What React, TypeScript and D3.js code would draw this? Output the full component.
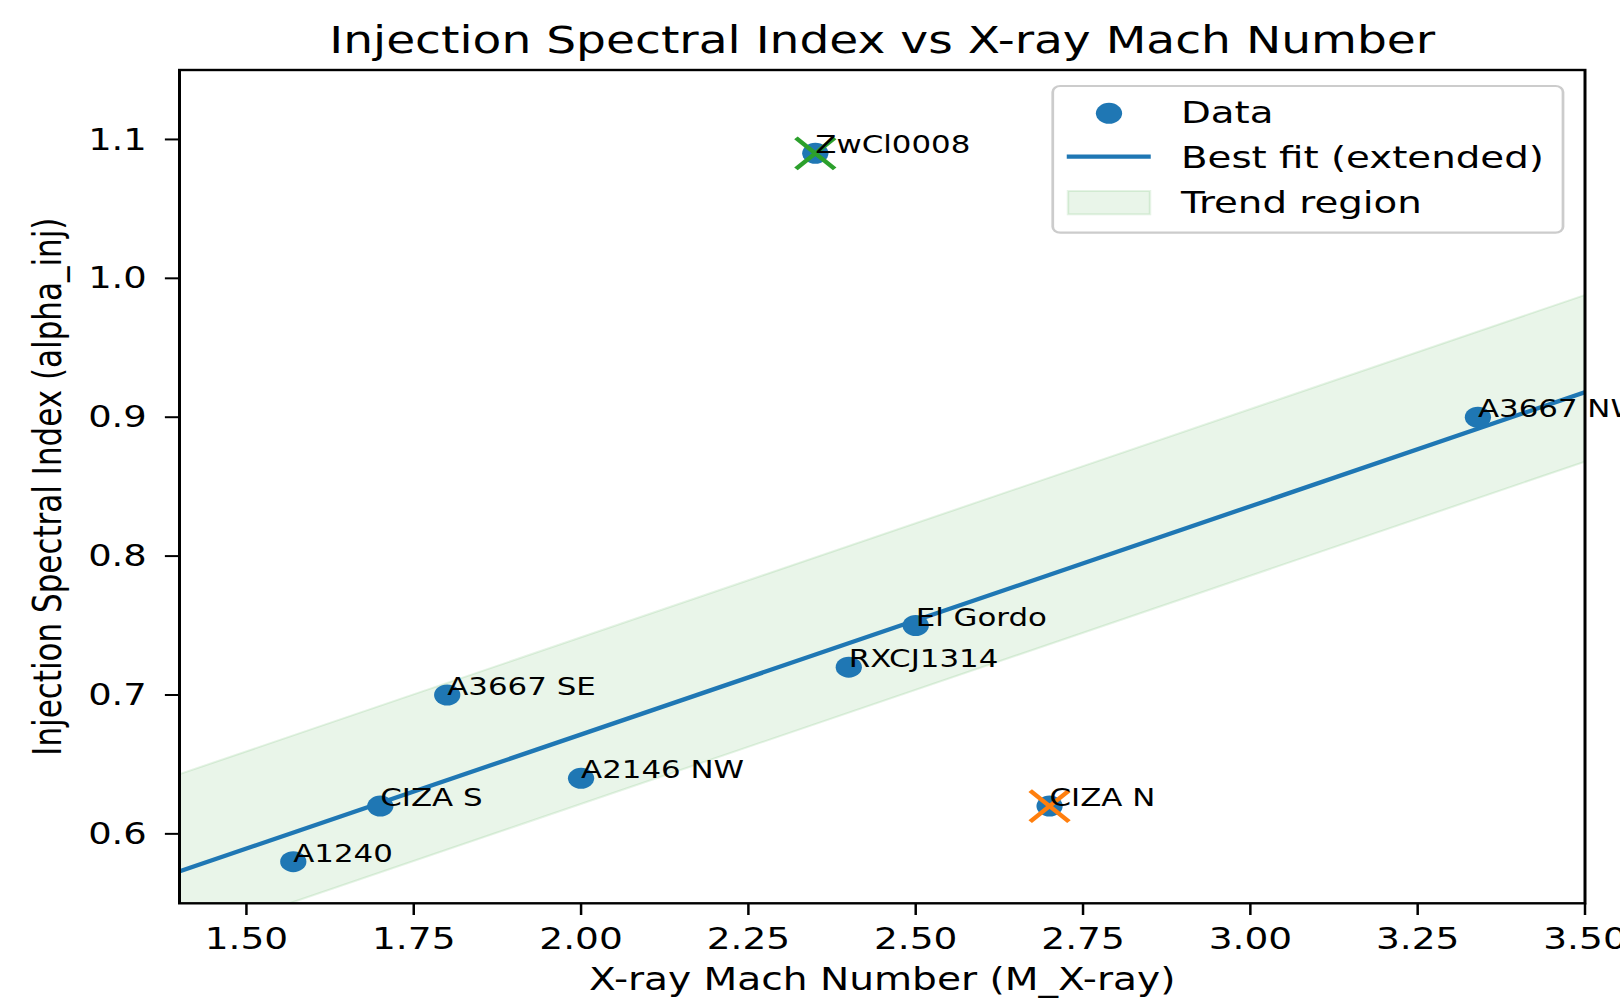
import React from 'react';
import * as d3 from 'd3';

// cluster relics: X-ray Mach number vs injection spectral index
const names = ['A1240', 'CIZA S', 'A3667 SE', 'A2146 NW', 'RXCJ1314', 'El Gordo', 'ZwCl0008', 'CIZA N', 'A3667 NW'];
const machX = [1.57, 1.7, 1.8, 2.0, 2.4, 2.5, 2.35, 2.7, 3.34];
const alphaInj = [0.58, 0.62, 0.7, 0.64, 0.72, 0.75, 1.09, 0.62, 0.9];

// flagged outliers
const outlierNames = ['ZwCl0008', 'CIZA N'];
const outlierColors = ['#2ca02c', '#ff7f0e'];

// extended best-fit line and the trend band around it
const fitX = [1.4, 3.5];
const fitY = [0.573, 0.918];
const bandHigh = [0.643, 0.988];
const bandLow = [0.523, 0.868];

const xTicks = [1.5, 1.75, 2.0, 2.25, 2.5, 2.75, 3.0, 3.25, 3.5];
const yTicks = [0.6, 0.7, 0.8, 0.9, 1.0, 1.1];

const legendLabels = ['Data', 'Best fit (extended)', 'Trend region'];

const WIDTH = 1620;
const HEIGHT = 999;
const STRETCH = 1.25; // the figure is drawn narrow and stretched sideways
const W = WIDTH / STRETCH;
const MARGIN = { top: 70, right: W - 1268, bottom: HEIGHT - 903.3, left: 143.6 };
const FONT = 'DejaVu Sans, sans-serif';
const BLUE = '#1f77b4';

export default function App() {
  const boundsWidth = W - MARGIN.left - MARGIN.right;
  const boundsHeight = HEIGHT - MARGIN.top - MARGIN.bottom;

  const xScale = d3.scaleLinear().domain([1.4, 3.5]).range([0, boundsWidth]);
  const yScale = d3.scaleLinear().domain([0.55, 1.15]).range([boundsHeight, 0]);

  const fitLine = d3
    .line<number>()
    .x((d) => xScale(d))
    .y((d, i) => yScale(fitY[i]))(fitX);

  const band = d3
    .area<number>()
    .x((d) => xScale(d))
    .y0((d, i) => yScale(bandLow[i]))
    .y1((d, i) => yScale(bandHigh[i]))(fitX);

  const TICK = 11.7;

  return (
    <svg width={WIDTH} height={HEIGHT} style={{ position: 'absolute', left: 0, top: 0, background: '#fff' }}>
      <g transform={`scale(${STRETCH},1)`} fontFamily={FONT}>
        <text x={MARGIN.left + boundsWidth / 2} y={53} textAnchor="middle" fontSize={37.7}>
          Injection Spectral Index vs X-ray Mach Number
        </text>
        <text x={MARGIN.left + boundsWidth / 2} y={990} textAnchor="middle" fontSize={31.3}>
          X-ray Mach Number (M_X-ray)
        </text>
        <text
          transform={`translate(49,${MARGIN.top + boundsHeight / 2}) rotate(-90)`}
          textAnchor="middle"
          fontSize={31}
        >
          Injection Spectral Index (alpha_inj)
        </text>

        <g transform={`translate(${MARGIN.left},${MARGIN.top})`}>
          <defs>
            <clipPath id="plotArea">
              <rect x={0} y={0} width={boundsWidth} height={boundsHeight} />
            </clipPath>
          </defs>
          <g clipPath="url(#plotArea)">
            <path d={band ?? ''} fill="#2ca02c" fillOpacity={0.1} stroke="#2ca02c" strokeOpacity={0.12} strokeWidth={2} />
            <path d={fitLine ?? ''} fill="none" stroke={BLUE} strokeWidth={4.2} />
          </g>

          {machX.map((x, i) => (
            <circle key={i} cx={xScale(x)} cy={yScale(alphaInj[i])} r={10.5} fill={BLUE} />
          ))}

          {outlierNames.map((n, k) => {
            const i = names.indexOf(n);
            const cx = xScale(machX[i]);
            const cy = yScale(alphaInj[i]);
            const s = 15.5;
            return (
              <g key={n} stroke={outlierColors[k]} strokeWidth={4}>
                <line x1={cx - s} y1={cy - s} x2={cx + s} y2={cy + s} />
                <line x1={cx - s} y1={cy + s} x2={cx + s} y2={cy - s} />
              </g>
            );
          })}

          {names.map((n, i) => (
            <text key={n} x={xScale(machX[i])} y={yScale(alphaInj[i])} fontSize={24.7}>
              {n}
            </text>
          ))}

          {/* spines */}
          <rect x={0} y={0} width={boundsWidth} height={boundsHeight} fill="none" stroke="#000" strokeWidth={2.4} />

          {xTicks.map((t) => (
            <g key={t} transform={`translate(${xScale(t)},${boundsHeight})`}>
              <line y1={0} y2={TICK} stroke="#000" strokeWidth={2} />
              <text y={949 - 903.3} textAnchor="middle" fontSize={30}>
                {t.toFixed(2)}
              </text>
            </g>
          ))}
          {yTicks.map((t) => (
            <g key={t} transform={`translate(0,${yScale(t)})`}>
              <line x1={-TICK} x2={0} stroke="#000" strokeWidth={2} />
              <text x={117.4 - MARGIN.left} textAnchor="end" dominantBaseline="central" fontSize={29.5}>
                {t.toFixed(1)}
              </text>
            </g>
          ))}
        </g>

        {/* legend */}
        <g>
          <rect
            x={842.2}
            y={86}
            width={1250.4 - 842.2}
            height={232.7 - 86}
            rx={6}
            fill="#fff"
            fillOpacity={0.8}
            stroke="#cccccc"
            strokeWidth={2.2}
          />
          <circle cx={887.2} cy={113.3} r={10.5} fill={BLUE} />
          <line x1={853.4} x2={920.6} y1={156.7} y2={156.7} stroke={BLUE} strokeWidth={4.2} />
          <rect
            x={854.4}
            y={191}
            width={920 - 854.4}
            height={214.3 - 191}
            fill="#2ca02c"
            fillOpacity={0.1}
            stroke="#2ca02c"
            strokeOpacity={0.12}
            strokeWidth={2}
          />
          {legendLabels.map((l, i) => (
            <text key={l} x={944.8} y={123.3 + i * 45} fontSize={31}>
              {l}
            </text>
          ))}
        </g>
      </g>
    </svg>
  );
}
